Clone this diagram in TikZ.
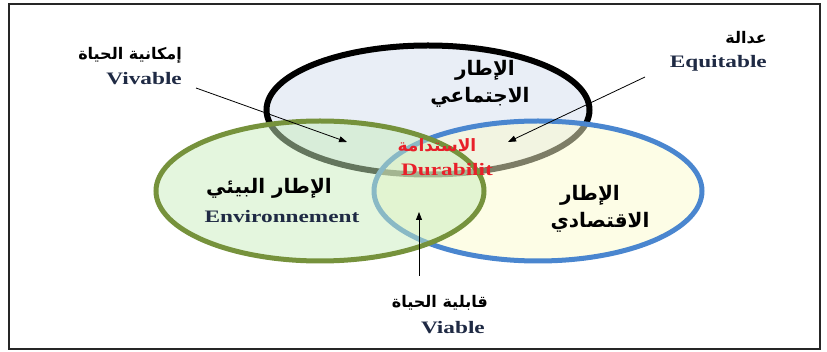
\documentclass[tikz,border=0pt]{standalone}
\usepackage{fontspec}
\usepackage{tikz}
\usetikzlibrary{shapes.geometric,arrows.meta}
\TeXXeTstate=1
\newfontfamily\arfont[Script=Arabic]{DejaVu Sans}
\newfontfamily\lafont[FakeStretch=1.33]{Liberation Serif}

\definecolor{socfill}{HTML}{E9EEF6}
\definecolor{envline}{HTML}{76923C}
\definecolor{envfill}{HTML}{C9EDBD}
\definecolor{ecoline}{HTML}{4A86CF}
\definecolor{ecofill}{HTML}{FBFBCD}
\definecolor{navy}{HTML}{1F2A44}
\definecolor{durred}{HTML}{E8202A}

\tikzset{
    ring/.style={ellipse, inner sep=0pt, line width=5pt,
        minimum width=328pt, minimum height=140pt},
    arbig/.style={font=\arfont\bfseries\fontsize{20}{22}\selectfont, inner sep=0pt},
    arsmall/.style={font=\arfont\bfseries\fontsize{16}{18}\selectfont, inner sep=0pt},
    latin/.style={font=\lafont\bfseries\fontsize{17.5}{19}\selectfont, text=navy, inner sep=0pt},
    pointer/.style={-{Triangle[length=8pt,width=6pt]}, line width=0.8pt}
}

\begin{document}
\begin{tikzpicture}[x=1pt, y=-1pt]

    \useasboundingbox (0,0) rectangle (827,352);
    \draw[line width=2pt, black!85] (9,4) rectangle (820,349);

    % the three frames
    \node (social) [ring, draw=black, fill=socfill, line width=6pt,
        minimum width=323pt, minimum height=129pt] at (428,110) {};
    \node (econ) [ring, draw=ecoline, fill=ecofill, fill opacity=0.5] at (538,191) {};
    \node (environ) [ring, draw=envline, fill=envfill, fill opacity=0.5] at (320,191) {};

    % frame titles
    \node (socA) [arbig] at (485,70) {\beginR الإطار\endR};
    \node (socB) [arbig] at (480,97) {\beginR الاجتماعي\endR};
    \node (envA) [arbig] at (269,188) {\beginR الإطار البيئي\endR};
    \node (envB) [latin] at (282,217) {Environnement};
    \node (ecoA) [arbig] at (590,195) {\beginR الإطار\endR};
    \node (ecoB) [arbig] at (600,222) {\beginR الاقتصادي\endR};
    \node (durA) [arsmall, text=durred, font=\arfont\bfseries\fontsize{17}{19}\selectfont] at (437,145) {\beginR الاستدامة\endR};
    \node (durB) [latin, text=durred] at (447,170) {Durabilit};

    % outside labels
    \node (vivA) [arsmall, anchor=east] at (182,55) {\beginR إمكانية الحياة\endR};
    \node (vivB) [latin, anchor=east] at (182,79) {Vivable};
    \node (equA) [arsmall, anchor=east] at (767,38) {\beginR عدالة\endR};
    \node (equB) [latin, anchor=east] at (767,63) {Equitable};
    \node (viaA) [arsmall, anchor=east] at (488,303) {\beginR قابلية الحياة\endR};
    \node (viaB) [latin, anchor=east] at (485,328) {Viable};

    % pointers
    \coordinate (vivfrom) at (196,88);
    \coordinate (vivto) at (347,142);
    \coordinate (equfrom) at (645,77);
    \coordinate (equto) at (508,142);
    \coordinate (viafrom) at (419,276);
    \coordinate (viato) at (419,212);
    \draw[pointer] (vivfrom) -- (vivto);
    \draw[pointer] (equfrom) -- (equto);
    \draw[pointer] (viafrom) -- (viato);

\end{tikzpicture}
\end{document}
